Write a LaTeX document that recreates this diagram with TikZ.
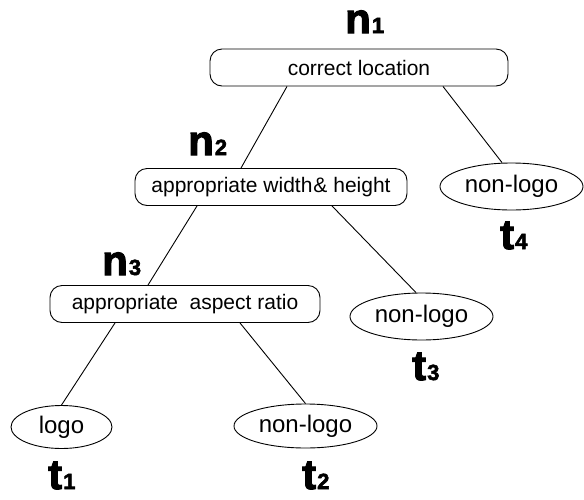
\documentclass[tikz,border=0pt]{standalone}
\usepackage{fontspec}
\setmainfont{Liberation Sans}
\newfontfamily\lblfont{Liberation Sans}[UprightFont=* Bold, FakeBold=2.5]
\usetikzlibrary{shapes.geometric,calc}
\newcommand{\lbl}[2]{{\lblfont\fontsize{42}{42}\selectfont #1\kern1pt{\fontsize{22}{22}\selectfont #2}}}
\tikzset{
  testbox/.style={draw, line width=0.9pt, rounded corners=12pt, inner sep=0pt,
    minimum height=37pt, font=\fontsize{21}{21}\selectfont},
  leaf/.style={draw, ellipse, line width=0.9pt, inner sep=0pt, minimum width=143pt,
    minimum height=47pt, font=\fontsize{24}{24}\selectfont},
  tag/.style={anchor=base west, inner sep=0pt},
  edge/.style={line width=0.9pt}
}
\begin{document}
\begin{tikzpicture}[x=1pt,y=-1pt]
\useasboundingbox (0,0) rectangle (584,499);
\node[testbox, minimum width=298pt] (b1) at (359,67.5) {correct location};
\node[testbox, minimum width=272pt] (b2) at (271,187) {appropriate width\kern1pt\& height};
\node[testbox, minimum width=270pt] (b3) at (185,304) {appropriate\ \ aspect ratio};
\node[leaf] (l4) at (511.5,186.5) {non-logo};
\node[leaf] (l3) at (421.5,316.5) {non-logo};
\node[leaf, minimum width=101pt, minimum height=43pt] (l1) at (61.5,427) {logo};
\node[leaf, minimum height=44pt] (l2) at (305.5,426) {non-logo};
\node[tag] (n1) at (345,33) {\lbl{n}{1}};
\node[tag] (n2) at (188,155) {\lbl{n}{2}};
\node[tag] (n3) at (102,275) {\lbl{n}{3}};
\node[tag] (t4) at (500,249) {\lbl{t}{4}};
\node[tag] (t3) at (412,380) {\lbl{t}{3}};
\node[tag] (t1) at (48,489) {\lbl{t}{1}};
\node[tag] (t2) at (302,489) {\lbl{t}{2}};
\draw[edge] ($(b1.south)+(-72,0)$) -- ($(b2.north)+(-30,0)$);
\draw[edge] ($(b1.south)+(84,0)$) -- ($(l4.north)+(-9.5,0)$);
\draw[edge] ($(b2.south)+(-74,0)$) -- ($(b3.north)+(-37,0)$);
\draw[edge] ($(b2.south)+(61,0)$) -- ($(l3.north)+(-5.5,0)$);
\draw[edge] ($(b3.south)+(-70,0)$) -- (l1.north);
\draw[edge] ($(b3.south)+(55,0)$) -- (l2.north);
\end{tikzpicture}
\end{document}
